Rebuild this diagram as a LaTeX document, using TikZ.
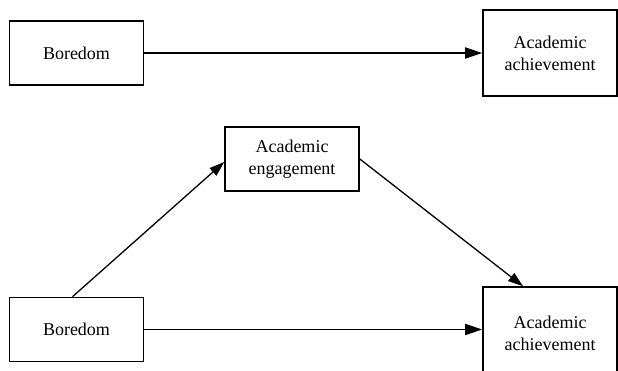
\documentclass[tikz,border=0pt]{standalone}
\usepackage{fontspec}
\setmainfont{Liberation Serif}
\usetikzlibrary{arrows.meta}
\begin{document}
\begin{tikzpicture}[x = 1pt, y = 1pt,
            var/.style = {draw, line width = 1.6pt, minimum width = 134pt, minimum height = 64pt,
                          align = center, inner sep = 0pt, font = \fontsize{18}{22}\selectfont},
            outc/.style = {var, minimum height = 86pt},
            link/.style = {-{Triangle[length = 17pt, width = 11pt]}, line width = 1.8pt},
            slant/.style = {-{Triangle[length = 15pt, width = 10pt]}, line width = 1.3pt}]
            \useasboundingbox (0, 0) rectangle (618, 370);
            \node[var]  (bore1) at (76.5, 317) {Boredom};
            \node[outc] (ach1)  at (550, 317)  {Academic\\achievement};
            \node[var]  (eng)   at (292, 211)  {Academic\\engagement};
            \node[var]  (bore2) at (76.5, 40.5) {Boredom};
            \node[outc, minimum height = 92pt] (ach2) at (550, 37) {Academic\\achievement};
            \draw[link]  (bore1.east) -- (ach1.west);
            \draw[link]  (bore2.east) -- (ach2.west |- bore2.east);
            \draw[slant] ([xshift = -4pt]bore2.north) -- ([yshift = -3pt]eng.west);
            \draw[slant] (eng.east) -- ([xshift = -27pt]ach2.north);
        \end{tikzpicture}
\end{document}
